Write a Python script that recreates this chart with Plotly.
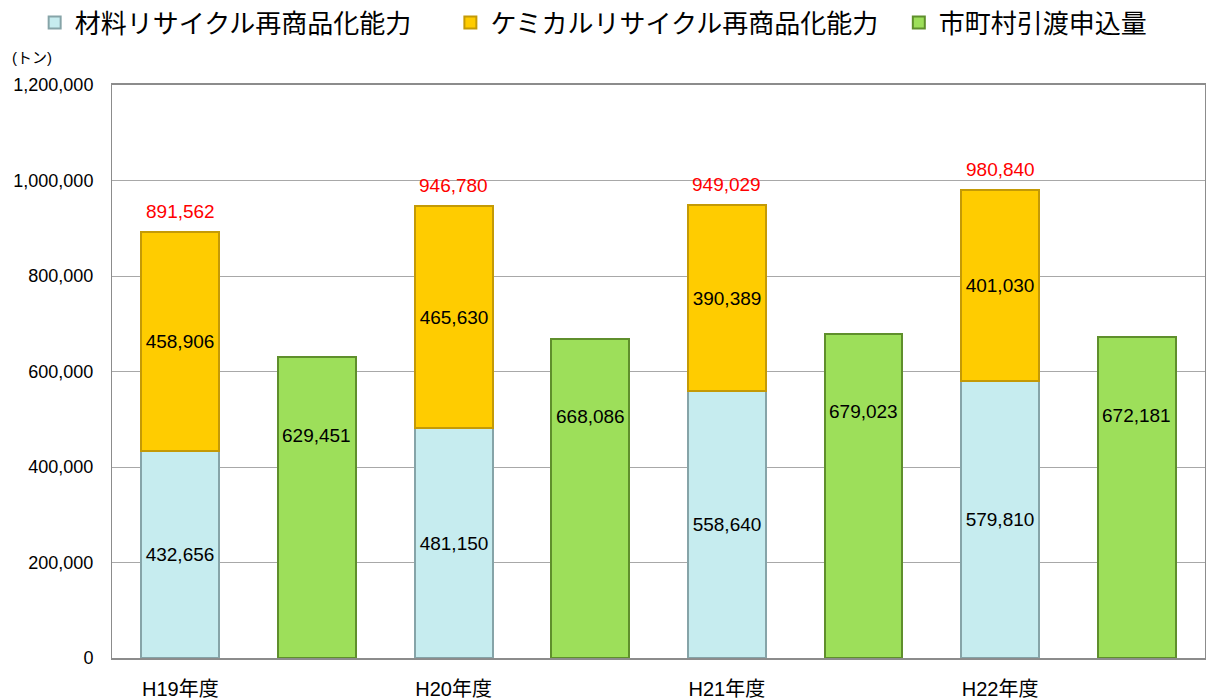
import plotly.graph_objects as go

# Data (トン)
years = ["H19年度", "H20年度", "H21年度", "H22年度"]
material = [432656, 481150, 558640, 579810]
chemical = [458906, 465630, 390389, 401030]
municipal = [629451, 668086, 679023, 672181]

totals = [m + c for m, c in zip(material, chemical)]

# each year has two slots: stacked capacity bar, then municipal bar
stack_x = [2 * i for i in range(len(years))]
muni_x = [2 * i + 1 for i in range(len(years))]

FONT = "Liberation Sans, Arial, Noto Sans CJK JP, sans-serif"
BAR_W = 0.57
LBL = 19

fig = go.Figure()

fig.add_trace(go.Bar(
    x=stack_x, y=material, name="材料リサイクル再商品化能力",
    width=BAR_W, legend="legend",
    marker=dict(color="#c6ecef", line=dict(color="#86a4a8", width=2)),
    text=[f"{v:,}" for v in material],
    textposition="inside", insidetextanchor="middle",
    textfont=dict(color="black", size=LBL),
))

fig.add_trace(go.Bar(
    x=stack_x, y=chemical, name="ケミカルリサイクル再商品化能力",
    width=BAR_W, legend="legend2",
    marker=dict(color="#ffcc00", line=dict(color="#c49a06", width=2)),
    text=[f"{v:,}" for v in chemical],
    textposition="inside", insidetextanchor="middle",
    textfont=dict(color="black", size=LBL),
))

fig.add_trace(go.Bar(
    x=muni_x, y=municipal, name="市町村引渡申込量",
    width=BAR_W, legend="legend3",
    marker=dict(color="#9ddf5a", line=dict(color="#5f8f2c", width=2)),
))

# municipal labels sit in the upper part of the green bars
for x, v in zip(muni_x, municipal):
    fig.add_annotation(
        x=x, y=v, text=f"{v:,}", showarrow=False,
        yanchor="middle", yshift=-78,
        font=dict(color="black", size=LBL, family=FONT),
    )

# totals in red above stacked bars
for x, t in zip(stack_x, totals):
    fig.add_annotation(
        x=x, y=t, text=f"{t:,}", showarrow=False,
        yanchor="bottom", yshift=8,
        font=dict(color="red", size=LBL, family=FONT),
    )

fig.add_annotation(
    xref="paper", yref="paper", x=-0.093, y=1.03,
    xanchor="left", yanchor="bottom", text="(トン)", showarrow=False,
    font=dict(size=15, color="black", family=FONT),
)


def legend_at(xpos):
    return dict(
        orientation="h", xref="container", yref="container",
        x=xpos, y=0.979, xanchor="left", yanchor="middle",
        font=dict(size=26, family=FONT), itemwidth=30,
        bgcolor="rgba(0,0,0,0)",
    )


# page body has an 8px margin, so the figure is sized 8px short
fig.update_layout(
    barmode="stack",
    width=1212, height=692,
    margin=dict(l=104, r=15, t=77, b=42, autoexpand=False),
    paper_bgcolor="white", plot_bgcolor="white",
    font=dict(family=FONT, color="black"),
    bargap=0,
    showlegend=True,
    legend=legend_at(0.022),
    legend2=legend_at(0.365),
    legend3=legend_at(0.735),
    xaxis=dict(
        range=[-0.5, 7.5],
        tickvals=stack_x, ticktext=years,
        tickfont=dict(size=20),
        showgrid=False, ticks="", ticklabelstandoff=12,
        showline=True, linecolor="#8c8c8c", linewidth=2, mirror=True,
        zeroline=False,
    ),
    yaxis=dict(
        range=[0, 1200000], dtick=200000,
        tickformat=",d", tickfont=dict(size=18),
        showgrid=True, gridcolor="#a8a8a8", gridwidth=1,
        showline=True, linecolor="#8c8c8c", linewidth=1, mirror=True,
        zeroline=False, ticklabelstandoff=14,
    ),
)

fig.write_html("out.html")
